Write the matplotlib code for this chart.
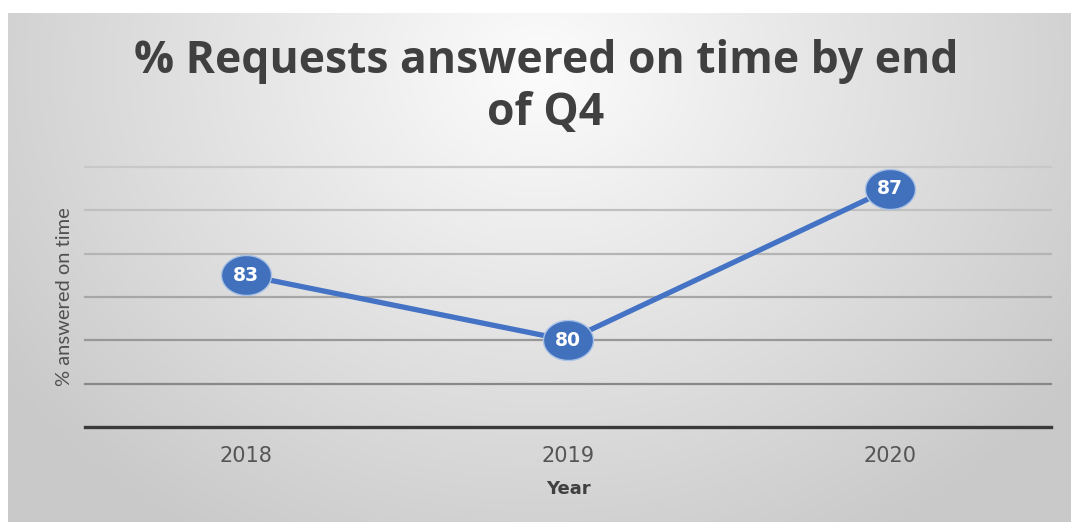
import numpy as np
import matplotlib
matplotlib.use("Agg")
import matplotlib.pyplot as plt
from matplotlib.path import Path

# ── Data ──────────────────────────────────────────────────────────────────────
years = ["2018", "2019", "2020"]
pct_on_time = [83, 80, 87]
y_ticks = [76, 78, 80, 82, 84, 86, 88]

W, H, DPI = 1071, 522, 100
fig = plt.figure(figsize=(W / DPI, H / DPI), dpi=DPI, facecolor="white")

# ── Radial grey background (chart area) ───────────────────────────────────────
bg = fig.add_axes([8 / W, 0, 1 - 8 / W, (H - 13) / H])
bg.set_axis_off()
xx, yy = np.meshgrid(np.arange(W - 8), np.arange(H - 13))
cx, cy = 530, 55
t = np.sqrt(((xx - cx) / 640.0) ** 2 + ((yy - cy) / 540.0) ** 2)
t = np.clip(t, 0, 1)
val = (252 - 50 * t) / 255.0
bg.imshow(np.dstack([val, val, val]), aspect="auto", interpolation="bilinear",
          extent=(0, 1, 0, 1), origin="upper")
bg.set_xlim(0, 1)
bg.set_ylim(0, 1)

# ── Main axes ─────────────────────────────────────────────────────────────────
ax = fig.add_axes([85 / W, (H - 427) / H, 966 / W, 260 / H])
ax.patch.set_alpha(0)
x = np.arange(len(years))

ax.set_xlim(-0.5, len(years) - 0.5)
ax.set_ylim(y_ticks[0], y_ticks[-1])
ax.set_yticks(y_ticks)
ax.set_yticklabels([])
ax.tick_params(axis="y", length=0)
ax.set_xticks(x)
ax.set_xticklabels(years, fontsize=15, color="#555555", family="DejaVu Sans")
ax.tick_params(axis="x", length=0, pad=14)

grid_cols = ["#c8c8c8", "#c0c0c0", "#b4b4b4", "#a6a6a6", "#989898", "#888888"]
for v, c in zip(y_ticks[1:][::-1], grid_cols):
    ax.axhline(v, color=c, lw=1.6, zorder=1, clip_on=False)

for s in ["top", "left", "right"]:
    ax.spines[s].set_visible(False)
ax.spines["bottom"].set_color("#3a3a3a")
ax.spines["bottom"].set_linewidth(2.4)

# slightly wide ellipse marker (reference is stretched horizontally)
th = np.linspace(0, 2 * np.pi, 80)
ell = Path(np.column_stack([1.25 * np.cos(th), np.sin(th)]), closed=True)

ax.plot(x, pct_on_time, color="#4472c4", lw=3.8, zorder=3,
        marker=ell, markersize=36, markerfacecolor="#4171bd",
        markeredgecolor="#a9c2e6", markeredgewidth=1.0)
for xi, v in zip(x, pct_on_time):
    ax.text(xi, v, f"{v}", ha="center", va="center", color="white",
            fontsize=13.5, fontweight="bold", family="DejaVu Sans", zorder=4)

ax.set_xlabel("Year", fontsize=13, fontweight="bold", color="#404040",
              family="DejaVu Sans", labelpad=10)

fig.text(65 / W, 1 - 297 / H, "% answered on time", rotation=90,
         ha="center", va="center", fontsize=14.5, color="#505050", family="Lato")

fig.text(546 / W, 1 - 61 / H, "% Requests answered on time by end",
         ha="center", va="center", fontsize=32, fontweight="bold",
         color="#404040", family="Open Sans")
fig.text(546 / W, 1 - 113 / H, "of Q4",
         ha="center", va="center", fontsize=32, fontweight="bold",
         color="#404040", family="Open Sans")

fig.savefig("out.png", dpi=DPI)
